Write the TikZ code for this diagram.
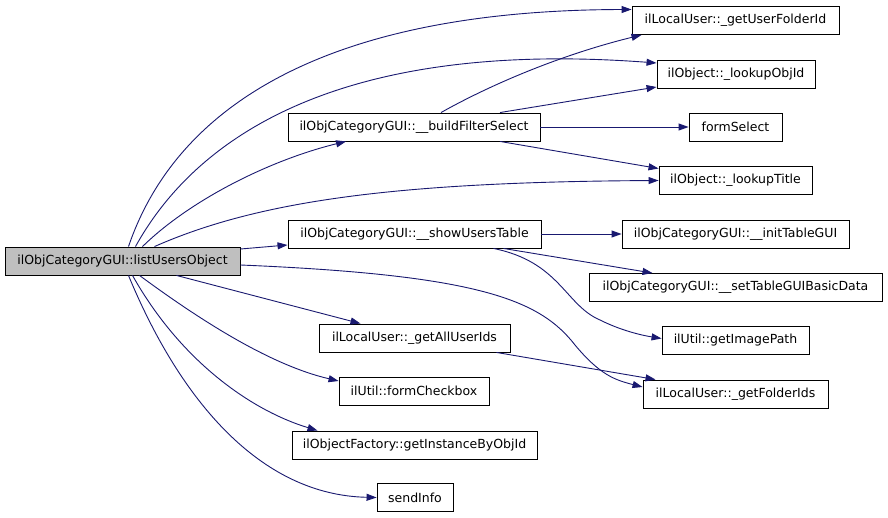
\documentclass[tikz,border=0pt]{standalone}
\usepackage{fontspec}
\setmainfont{DejaVu Sans}
\usetikzlibrary{arrows.meta}
\definecolor{edgeblue}{HTML}{191970}
\definecolor{nodegrey}{HTML}{BFBFBF}
\tikzset{
  fn/.style={draw=black, line width=0.9pt, fill=white, minimum height=28pt, inner sep=0pt,
             font=\fontsize{12.5}{15}\selectfont},
  cur/.style={fn, fill=nodegrey},
  call/.style={draw=edgeblue, line width=0.9pt, -{Triangle[length=10pt,width=7pt]}},
}
\begin{document}
\begin{tikzpicture}[x=1pt,y=-1pt]
\useasboundingbox[fill=white] (0,0) rectangle (888,518);
\node[cur, minimum width=235pt] (lu) at (122.5,261) {ilObjCategoryGUI::listUsersObject};
\node[fn, minimum width=252pt] (bf) at (414,127) {ilObjCategoryGUI::\_\_buildFilterSelect};
\node[fn, minimum width=253pt] (su) at (414.5,234) {ilObjCategoryGUI::\_\_showUsersTable};
\node[fn, minimum width=191pt] (ga) at (414.5,338) {ilLocalUser::\_getAllUserIds};
\node[fn, minimum width=150pt] (fc) at (414,391) {ilUtil::formCheckbox};
\node[fn, minimum width=245pt] (gi) at (414.5,445) {ilObjectFactory::getInstanceByObjId};
\node[fn, minimum width=76pt] (si) at (415,497.5) {sendInfo};
\node[fn, minimum width=207pt] (uf) at (735.5,20.5) {ilLocalUser::\_getUserFolderId};
\node[fn, minimum width=158pt] (lo) at (736,74) {ilObject::\_lookupObjId};
\node[fn, minimum width=93pt] (fs) at (735.5,127) {formSelect};
\node[fn, minimum width=153pt] (lt) at (735.5,180.5) {ilObject::\_lookupTitle};
\node[fn, minimum width=227pt] (it) at (735.5,234) {ilObjCategoryGUI::\_\_initTableGUI};
\node[fn, minimum width=293pt] (sb) at (735.5,287.5) {ilObjCategoryGUI::\_\_setTableGUIBasicData};
\node[fn, minimum width=147pt] (ip) at (735.5,340.5) {ilUtil::getImagePath};
\node[fn, minimum width=185pt] (fi) at (735.5,394) {ilLocalUser::\_getFolderIds};

% from listUsersObject
\draw[call] ([xshift=6pt]lu.north) .. controls (175,110) and (320,10) .. ([yshift=11pt]uf.west);
\draw[call] ([xshift=13pt]lu.north) .. controls (200,130) and (350,40) .. ([yshift=11pt]lo.west);
\draw[call] ([xshift=20pt]lu.north) .. controls (190,200) and (270,160) .. ([xshift=-68pt]bf.south);
\draw[call] ([xshift=32pt]lu.north) .. controls (260,200) and (400,182) .. (lt.west);
\draw[call] ([yshift=12pt]lu.east) -- ([yshift=-11pt]su.west);
\draw[call] ([yshift=-4pt]lu.east) .. controls (480,275) and (540,300) .. (575,345)
            .. controls (600,375) and (615,380) .. ([yshift=7pt]fi.west);
\draw[call] ([xshift=54pt]lu.south) -- ([xshift=-54pt]ga.north);
\draw[call] ([xshift=17pt]lu.south) .. controls (200,320) and (270,365) .. ([yshift=10pt]fc.west);
\draw[call] ([xshift=10pt]lu.south) .. controls (180,360) and (250,410) .. ([xshift=-97pt]gi.north);
\draw[call] ([xshift=6pt]lu.south) .. controls (180,400) and (260,495) .. (si.west);

% from __buildFilterSelect
\draw[call] ([xshift=27pt]bf.north) .. controls (490,85) and (560,55) .. ([xshift=-94pt]uf.south);
\draw[call] ([xshift=86pt]bf.north) -- ([yshift=-13pt]lo.west);
\draw[call] (bf.east) -- (fs.west);
\draw[call] ([xshift=86pt]bf.south) -- ([yshift=12pt]lt.west);

% from __showUsersTable
\draw[call] (su.east) -- (it.west);
\draw[call] ([xshift=89pt]su.south) -- ([xshift=-83pt]sb.north);
\draw[call] ([xshift=79pt]su.south) .. controls (560,262) and (565,305) .. (600,320)
            .. controls (620,330) and (640,335) .. ([yshift=2pt]ip.west);

% from _getAllUserIds
\draw[call] ([xshift=82pt]ga.south) -- ([xshift=-80pt]fi.north);
\end{tikzpicture}
\end{document}
